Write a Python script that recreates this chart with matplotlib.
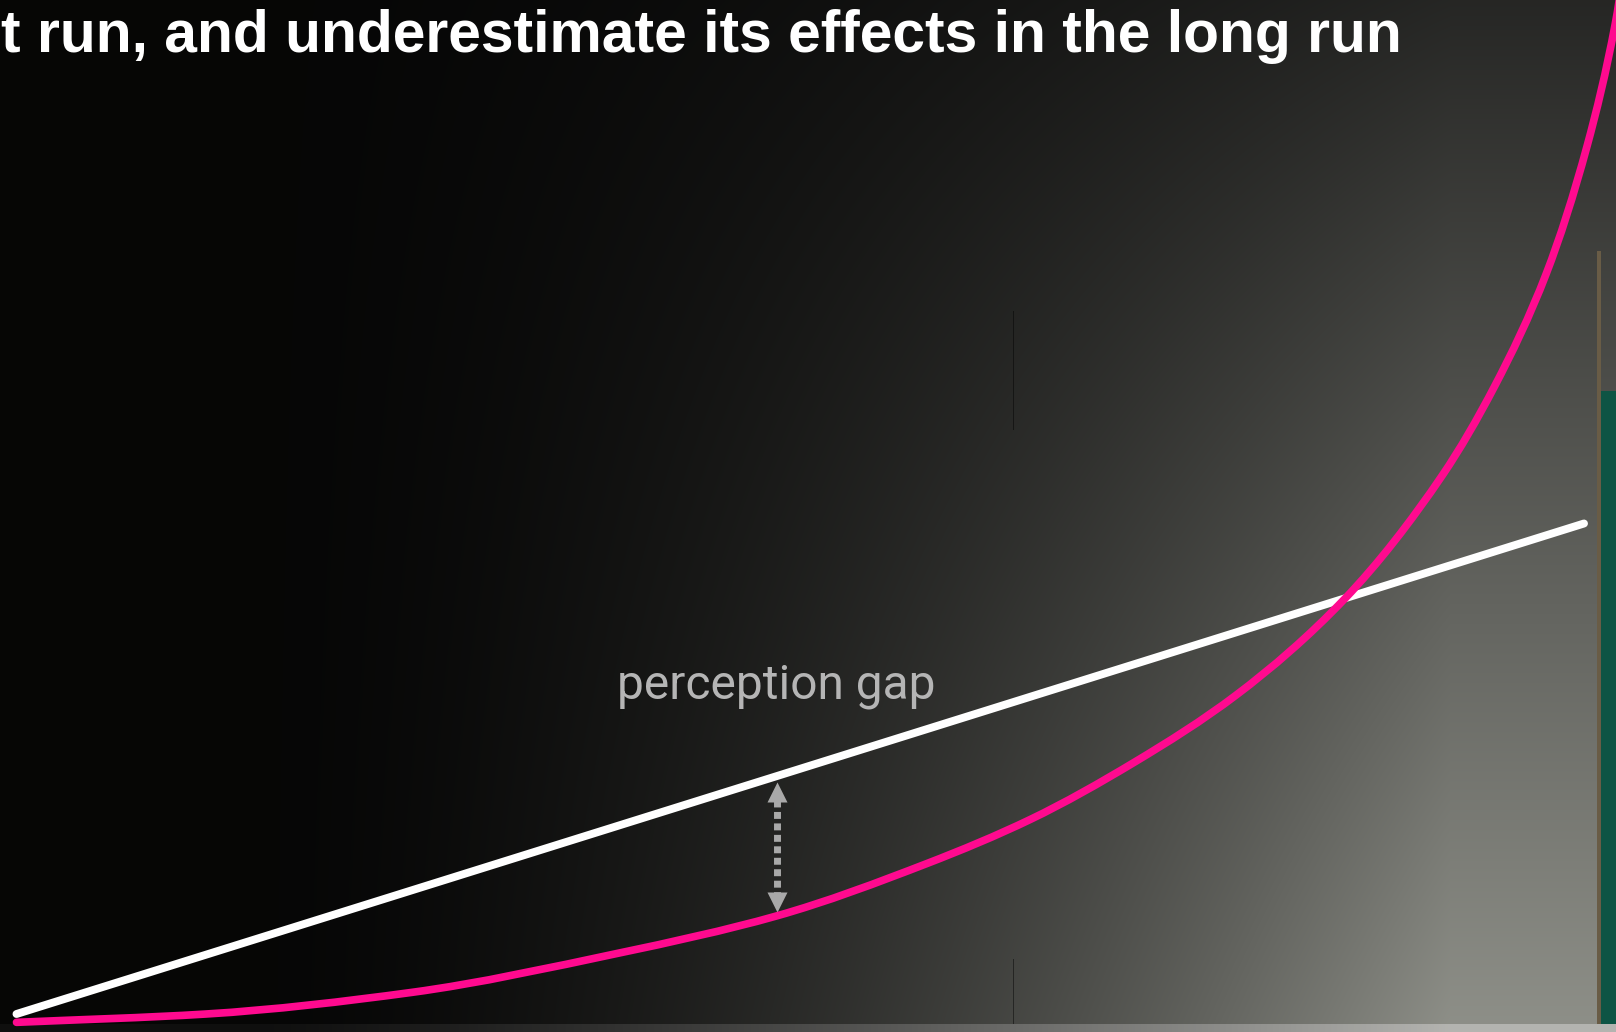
import numpy as np
import matplotlib
matplotlib.use("Agg")
import matplotlib.pyplot as plt
from matplotlib.path import Path
from matplotlib.patches import PathPatch
from matplotlib.transforms import offset_copy

# ---------------- data ----------------
title_text = "t run, and underestimate its effects in the long run"
gap_label = "perception gap"

# expected (linear) impact
time_expected = [0.0, 10.0]
impact_expected = [0.0, 10.0]

# actual (exponential-like) impact
time_actual = [0.0, 1.21, 2.52, 3.84, 4.85, 5.81, 6.47, 7.13, 7.78, 8.475,
               9.10, 9.43, 9.76, 10.02, 10.2, 10.3]
impact_actual = [-0.17, 0.0, 0.44, 1.24, 2.0, 3.07, 3.97, 5.13, 6.5, 8.47,
                 11.0, 12.8, 15.1, 17.7, 20.2, 22.3]

gap_time = 4.85

# ---------------- figure ----------------
W, H = 1616, 1032
fig = plt.figure(figsize=(W / 100, H / 100), dpi=100)

# background (dark slide fading into grey concrete on the right)
yy, xx = np.mgrid[0:H, 0:W].astype(float)
fx = np.clip((xx - 250.0) / 1200.0, 0, 1)
gy = 0.25 + 0.75 * yy / 950.0
B = 6 + 128 * fx ** 1.66 * gy
img = np.stack([B, B * 1.01, B * 0.96], axis=-1)
seam = (np.abs(xx - 1013) < 1.0) & (((yy > 310) & (yy < 430)) | ((yy > 958) & (yy < 1024)))
img[seam] *= 0.55
img[(xx >= 1597) & (xx < 1601) & (yy > 250)] = [105, 92, 70]
img[(xx >= 1601) & (yy > 390)] = [14, 84, 68]
strip = yy >= 1024
Bs = 15 + 165 * fx ** 1.3
img[strip] = np.stack([Bs, Bs, Bs * 0.98], axis=-1)[strip]
img = np.clip(img, 0, 255).astype(np.uint8)

bg = fig.add_axes([0, 0, 1, 1])
bg.imshow(img, aspect="auto", extent=(0, W, H, 0), interpolation="bilinear")
bg.set_axis_off()

ax = fig.add_axes([0, 0, 1, 1])
ax.patch.set_alpha(0)
ax.set_axis_off()
px_x = 156.75
px_y = 49.05
ax.set_xlim(-16.5 / px_x, (W - 16.5) / px_x)
ax.set_ylim((1014 - H) / px_y, 1014 / px_y)

ax.plot(time_expected, impact_expected, color="#ffffff", lw=5.7,
        solid_capstyle="round", zorder=3)

# smooth monotone (PCHIP-style) curve through the actual points, as cubic Beziers
x = np.asarray(time_actual, float)
y = np.asarray(impact_actual, float)
h = np.diff(x)
d = np.diff(y) / h
m = np.empty_like(x)
m[0] = d[0]
m[-1] = d[-1]
for k in range(1, len(x) - 1):
    if d[k - 1] * d[k] <= 0:
        m[k] = 0.0
    else:
        w1 = 2 * h[k] + h[k - 1]
        w2 = h[k] + 2 * h[k - 1]
        m[k] = (w1 + w2) / (w1 / d[k - 1] + w2 / d[k])
verts = [(x[0], y[0])]
codes = [Path.MOVETO]
for k in range(len(x) - 1):
    verts += [(x[k] + h[k] / 3, y[k] + m[k] * h[k] / 3),
              (x[k + 1] - h[k] / 3, y[k + 1] - m[k + 1] * h[k] / 3),
              (x[k + 1], y[k + 1])]
    codes += [Path.CURVE4] * 3
ax.add_patch(PathPatch(Path(verts, codes), fill=False, edgecolor="#ff0a8f",
                       lw=5.5, capstyle="round", joinstyle="round", zorder=4))

# perception gap arrow
gray = "#a9a9a9"
w_val = np.interp(gap_time, time_expected, impact_expected)
p_val = np.interp(gap_time, time_actual, impact_actual)
pt = fig.dpi / 72.0
inv = ax.transData.inverted()
top_d = inv.transform(ax.transData.transform((gap_time, w_val)) - (0, 17.5 * pt))
bot_d = inv.transform(ax.transData.transform((gap_time, p_val)) + (0, 16.0 * pt))
ax.plot([top_d[0], bot_d[0]], [top_d[1], bot_d[1]], color=gray, lw=5,
        linestyle=(0, (1.0, 0.65)), dash_capstyle="butt", zorder=2)
tr_top = offset_copy(ax.transData, fig=fig, x=0, y=-11.2, units="points")
tr_bot = offset_copy(ax.transData, fig=fig, x=0, y=10.0, units="points")
ax.plot([gap_time], [w_val], marker="^", ms=14, color=gray, mec="none",
        transform=tr_top, zorder=2)
ax.plot([gap_time], [p_val], marker="v", ms=14, color=gray, mec="none",
        transform=tr_bot, zorder=2)

ax.text(gap_time, 6.44, gap_label, ha="center", va="baseline",
        fontsize=34.5, family="Roboto", color="#b5b5b5", zorder=5)

# title (cropped slide title)
fig.text(1402 / W, 1 - 52 / H, title_text, ha="right", va="baseline",
         fontsize=42.3, family="Liberation Sans", weight="bold", color="white")

fig.savefig("out.png", dpi=100)
